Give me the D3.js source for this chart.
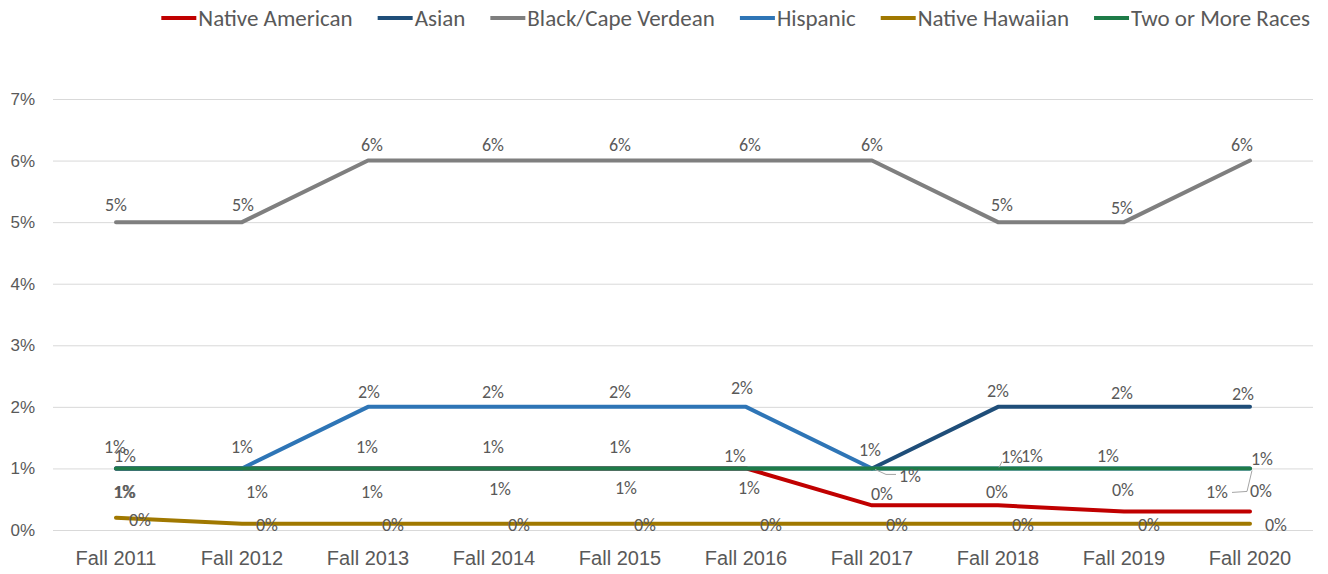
<!DOCTYPE html>
<html>
<head>
<meta charset="utf-8">
<script src="https://cdn.jsdelivr.net/npm/d3@7/dist/d3.min.js"></script>
<style>
  html, body { margin: 0; padding: 0; background: #fff; }
  svg { display: block; font-family: Carlito, Calibri, Lato, "Open Sans", sans-serif; }
</style>
</head>
<body>
<svg id="chart" width="1328" height="574"></svg>
<script>
// ---- data ----
const categories = ["Fall 2011", "Fall 2012", "Fall 2013", "Fall 2014", "Fall 2015",
                    "Fall 2016", "Fall 2017", "Fall 2018", "Fall 2019", "Fall 2020"];
const seriesNames = ["Native American", "Asian", "Black/Cape Verdean", "Hispanic",
                     "Native Hawaiian", "Two or More Races"];
const nativeAmerican = [1, 1, 1, 1, 1, 1, 0.4, 0.4, 0.3, 0.3];
const asian          = [1, 1, 1, 1, 1, 1, 1, 2, 2, 2];
const blackCapeVerde = [5, 5, 6, 6, 6, 6, 6, 5, 5, 6];
const hispanic       = [1, 1, 2, 2, 2, 2, 1, 1, 1, 1];
const nativeHawaiian = [0.2, 0.1, 0.1, 0.1, 0.1, 0.1, 0.1, 0.1, 0.1, 0.1];
const twoOrMore      = [1, 1, 1, 1, 1, 1, 1, 1, 1, 1];
const yTicks = [0, 1, 2, 3, 4, 5, 6, 7];

const seriesValues = [nativeAmerican, asian, blackCapeVerde, hispanic, nativeHawaiian, twoOrMore];
const colors = ["#C00000", "#1F4E79", "#7F7F7F", "#2E75B6", "#A07800", "#1E7B48"];

// label placement relative to each point (null = label sits under another one)
const labelOffsets = [
  [[9,24],[15,24],[4,24],[6,21],[6,20],[3,20],[10,-11],[-1,-13],[-1,-22],[11,-21]],
  [[9,-12],null,[-1,-21],[-1,-21],[0,-21],[-11,-12],[38,8],[0,-16],[-2,-14],[-7,-13]],
  [[0,-17],[1,-17],[4,-16],[-1,-16],[0,-16],[4,-16],[0,-16],[4,-17],[-2,-14],[-8,-16]],
  [[-1,-21],[0,-21],[1,-15],[-1,-15],[0,-15],[-4,-19],[-2,-18],[34,-12],[-16,-12],[12,-9]],
  [[24,2],[25,1],[25,1],[25,1],[25,1],[25,1],[25,1],[25,1],[25,1],[26,1]],
  [[8,24],null,null,null,null,null,null,[14,-11],null,[-33,24]]
];
// leader lines: [series, point, path relative to the point]
const leaders = [
  [1, 6, [[3,1],[14,6],[24,6]]],
  [5, 7, [[1,-1],[4,-7]]],
  [5, 9, [[2,2],[-3,23],[-18,24]]]
];

const svg = d3.select("#chart");
const x = d3.scaleBand().domain(categories).range([53, 1313]);
const cx = c => x(c) + x.bandwidth() / 2;
const y = d3.scaleLinear().domain([0, 7]).range([530, 99]);
const fmt = v => d3.format(".0%")(v / 100);

// gridlines
svg.append("g")
  .selectAll("line").data(yTicks).join("line")
  .attr("x1", 53).attr("x2", 1313)
  .attr("y1", d => y(d) + 0.5).attr("y2", d => y(d) + 0.5)
  .attr("stroke", "#D9D9D9").attr("stroke-width", 1);

// y axis labels
const yAxis = svg.append("g").attr("transform", "translate(35,0)")
  .call(d3.axisLeft(y).tickValues(yTicks).tickFormat(d => d + "%").tickSize(0).tickPadding(0));
yAxis.select(".domain").remove();
yAxis.selectAll("text").attr("fill", "#595959").style("font-size", "17px").style("font-family", null);

// x axis labels
const xAxis = svg.append("g").attr("transform", "translate(0,551)")
  .call(d3.axisBottom(x).tickSize(0).tickPadding(0));
xAxis.select(".domain").remove();
xAxis.selectAll("text").attr("fill", "#595959").style("font-size", "20px").style("font-family", null);

// lines
const line = d3.line().x((d, i) => cx(categories[i])).y(d => y(d));
svg.append("g").selectAll("path").data(seriesValues).join("path")
  .attr("d", d => line(d))
  .attr("fill", "none")
  .attr("stroke", (d, i) => colors[i])
  .attr("stroke-width", 4)
  .attr("stroke-linejoin", "round")
  .attr("stroke-linecap", "round");

// leader lines
svg.append("g").selectAll("polyline").data(leaders).join("polyline")
  .attr("points", ([s, p, pts]) => pts.map(([dx, dy]) =>
      (cx(categories[p]) + dx) + "," + (y(seriesValues[s][p]) + dy)).join(" "))
  .attr("fill", "none").attr("stroke", "#A6A6A6").attr("stroke-width", 1);

// data labels
const labels = [];
seriesValues.forEach((vals, s) => vals.forEach((v, i) => {
  const o = labelOffsets[s][i];
  if (o) labels.push({ v, x: cx(categories[i]) + o[0], y: y(v) + o[1] });
}));
svg.append("g").selectAll("text").data(labels).join("text")
  .attr("x", d => d.x).attr("y", d => d.y)
  .attr("text-anchor", "middle").attr("dominant-baseline", "central")
  .attr("fill", "#595959").style("font-size", "18px")
  .text(d => fmt(d.v));

// legend, right-aligned
const legend = svg.append("g").attr("transform", "translate(0,18)");
const items = legend.selectAll("g").data(seriesNames).join("g");
items.append("line").attr("x1", 0).attr("x2", 35).attr("y1", 0).attr("y2", 0)
  .attr("stroke", (d, i) => colors[i]).attr("stroke-width", 4);
items.append("text").attr("x", 37).attr("y", 0).attr("dominant-baseline", "central")
  .attr("fill", "#595959").style("font-size", "23px").text(d => d);
const widths = items.nodes().map(n => 37 + d3.select(n).select("text").node().getComputedTextLength());
const gap = 25;
let total = d3.sum(widths) + gap * (widths.length - 1);
let pos = 1310 - total;
items.attr("transform", (d, i) => { const t = `translate(${pos},0)`; pos += widths[i] + gap; return t; });
</script>
</body>
</html>
